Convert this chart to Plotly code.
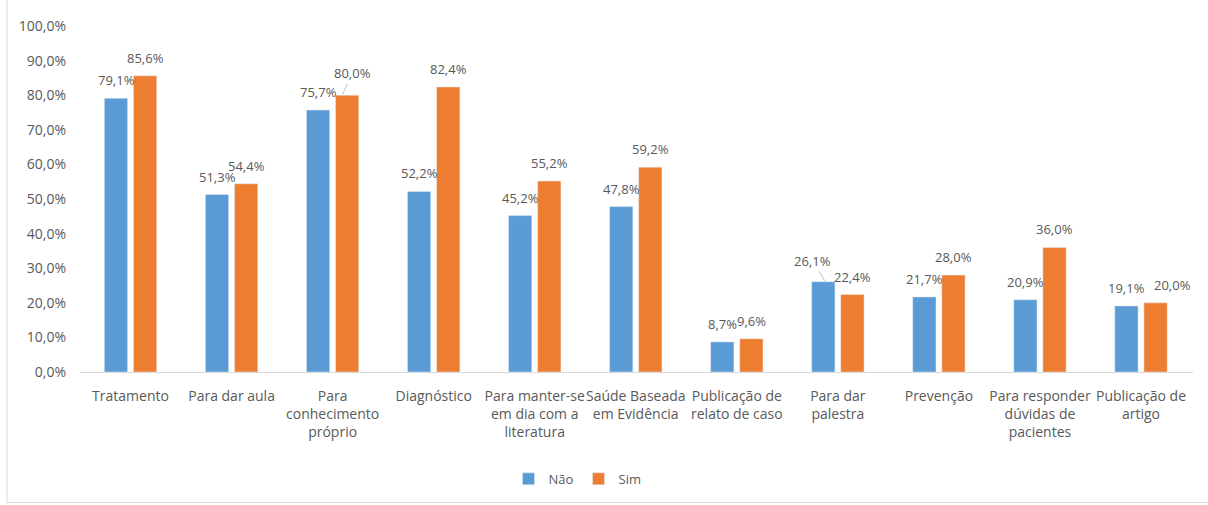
import plotly.graph_objects as go

# Categories (motivos) and shares for each answer group
categorias = [
    "Tratamento",
    "Para dar aula",
    "Para<br>conhecimento<br>próprio",
    "Diagnóstico",
    "Para manter-se<br>em dia com a<br>literatura",
    "Saúde Baseada<br>em Evidência",
    "Publicação de<br>relato de caso",
    "Para dar<br>palestra",
    "Prevenção",
    "Para responder<br>dúvidas de<br>pacientes",
    "Publicação de<br>artigo",
]
nao = [0.791, 0.513, 0.757, 0.522, 0.452, 0.478, 0.087, 0.261, 0.217, 0.209, 0.191]
sim = [0.856, 0.544, 0.800, 0.824, 0.552, 0.592, 0.096, 0.224, 0.280, 0.360, 0.200]

AZUL = "#5B9BD5"
LARANJA = "#ED7D31"
TEXTO = "#595959"
FONTE = "Open Sans"

fig = go.Figure()
fig.add_trace(go.Bar(name="Não", x=categorias, y=nao, marker_color=AZUL))
fig.add_trace(go.Bar(name="Sim", x=categorias, y=sim, marker_color=LARANJA))

# value labels above each bar; a few are nudged aside, two with a leader line
OFFSET_BARRA = 14.5
chamadas = {("Sim", 2): (-5, 10.5, -22), ("Não", 7): (2, -13, -21)}
deslocados = {("Sim", 10): 17}
anots = []
for nome, valores, sinal in (("Não", nao, -1), ("Sim", sim, 1)):
    for i, v in enumerate(valores):
        rotulo = f"{v * 100:.1f}%".replace(".", ",")
        base = dict(
            x=categorias[i], y=v, xref="x", yref="y", text=rotulo,
            font=dict(family=FONTE, size=13, color=TEXTO),
        )
        if (nome, i) in chamadas:
            dx, ax, ay = chamadas[(nome, i)]
            base.update(
                xshift=sinal * OFFSET_BARRA + dx, showarrow=True, arrowhead=0,
                arrowwidth=1, arrowcolor="#BFBFBF", ax=ax, ay=ay, standoff=1,
            )
        else:
            base.update(xshift=sinal * OFFSET_BARRA + deslocados.get((nome, i), 0),
                        yshift=18, showarrow=False, yanchor="middle")
        anots.append(base)

fig.update_layout(
    width=1208, height=505,
    margin=dict(l=80, r=15, t=26, b=132),
    paper_bgcolor="white", plot_bgcolor="white",
    barmode="group", bargap=0.424, bargroupgap=0.2,
    separators=",.",
    font=dict(family=FONTE, size=14, color=TEXTO),
    showlegend=True,
    legend=dict(orientation="h", x=0.447, xanchor="center", y=-0.305,
                yanchor="middle", font=dict(size=13, color=TEXTO),
                itemwidth=30, tracegroupgap=0),
    annotations=anots,
    shapes=[
        dict(type="line", xref="paper", yref="paper", x0=-0.0655, x1=-0.0655,
             y0=1.075, y1=-0.3775, line=dict(color="#D9D9D9", width=1)),
        dict(type="line", xref="paper", yref="paper", x0=-0.0655, x1=1.02,
             y0=-0.3775, y1=-0.3775, line=dict(color="#D9D9D9", width=1)),
    ],
)
fig.update_yaxes(range=[0, 1], dtick=0.1, tickformat=".1%", showgrid=False,
                 zeroline=False, showline=False, ticks="", ticklabelstandoff=13,
                 tickfont=dict(size=14, color=TEXTO))
fig.update_xaxes(showline=True, linecolor="#D9D9D9", linewidth=1, ticks="",
                 tickangle=0, ticklabelstandoff=11,
                 tickfont=dict(size=14, color=TEXTO))

fig.write_html("out.html")
